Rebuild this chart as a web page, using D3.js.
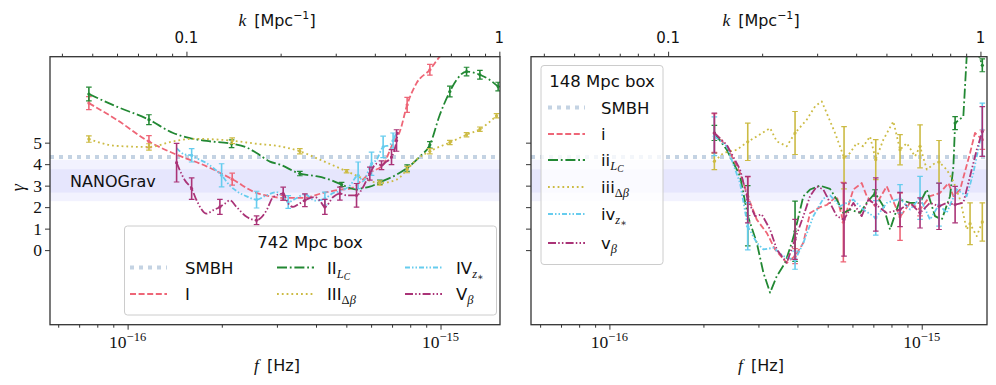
<!DOCTYPE html>
<html><head><meta charset="utf-8">
<script src="https://cdn.jsdelivr.net/npm/d3@7"></script>
<style>body{margin:0;background:#fff}svg{display:block}</style>
</head><body>
<svg id="c" width="996" height="385"></svg>
<script>
// ---------------- DATA ----------------
// frequencies in units of 1e-16 Hz, gamma = spectral index
const F_UNIT = 1e-16;
const K_PER_HZ = Math.pow(10, 14.812);   // k [Mpc^-1] = f [Hz] * K_PER_HZ
const SMBH_GAMMA = 13 / 3;
const NANO_OUTER = [2.28, 4.2];
const NANO_INNER = [2.68, 3.76];
const yTicks = [0, 1, 2, 3, 4, 5];
const fMajor = [1e-16, 1e-15];
const fMajorLabels = ["\u221216", "\u221215"];
const kMajor = [0.1, 1];
const kMajorLabels = ["0.1", "1"];

// ---- 742 Mpc box (left) ----
const L_I_f = [0.752,0.922,1.170,1.434,1.788,2.159,2.583,2.849,3.142,3.639,4.217,4.828,5.131,5.606,5.944,6.555,7.054,7.413,7.822,8.383,9.245,9.949,10.71];
const L_I_g = [6.84,6.07,5.05,4.44,3.9,3.3,2.66,2.51,2.43,2.43,2.66,2.82,2.85,3.25,3.59,3.98,4.98,5.52,6.76,7.77,8.39,9.0,9.4];
const L_I_ei = [0,2,5,8,18,20];
const L_I_ev = [0.3,0.28,0.28,0.12,0.35,0.25];

const L_II_f = [0.752,0.922,1.170,1.398,1.581,1.788,2.149,2.400,2.583,2.849,3.066,3.552,3.967,4.430,4.828,5.390,5.646,5.944,6.398,7.234,7.822,8.590,9.245,9.949,10.71,11.25,12.11,13.36,14.37,15.28];
const L_II_g = [7.26,6.68,6.07,5.45,5.21,5.08,4.95,4.78,4.52,4.12,3.98,3.56,3.45,3.28,3.05,2.82,2.89,2.95,3.16,3.51,3.82,4.36,4.9,6.3,7.38,7.92,8.31,8.16,7.92,7.61];
const L_II_ei = [0,2,6,11,14,18,20,22,24,26,27,29];
const L_II_ev = [0.32,0.23,0.18,0.1,0.1,0.1,0.15,0.15,0.25,0.2,0.2,0.2];

const L_III_f = [0.752,0.922,1.170,1.398,1.620,2.159,2.583,3.066,3.552,4.116,5.009,5.801,6.398,7.234,7.822,8.383,9.245,10.71,12.11,13.36,15.10];
const L_III_g = [5.17,4.85,4.8,5.06,5.18,5.09,4.95,4.83,4.6,4.21,3.67,3.28,3.12,3.28,3.75,4.21,4.6,5.01,5.37,5.63,6.25];
const L_III_ei = [0,2,5,8,10,12,14,16,17,18,19,20];
const L_III_ev = [0.15,0.15,0.13,0.12,0.08,0.1,0.15,0.12,0.1,0.1,0.1,0.1];

const L_IV_f = [1.434,1.524,1.602,1.702,1.788,1.887,1.997,2.122,2.229,2.400,2.583,2.781,2.992,3.142,3.260,3.449,3.686,3.967,4.270,4.528,4.768,5.131,5.454,5.646,6.019,6.244,6.555,6.887,7.054,7.234];
const L_IV_g = [4.75,4.45,4.41,4.2,4.05,3.8,3.48,3.0,2.75,2.5,2.35,2.55,2.7,2.45,2.24,2.4,2.6,2.3,2.4,2.65,2.75,3.0,3.48,3.2,4.02,4.2,4.8,4.9,5.1,5.5];
const L_IV_ei = [2,6,10,14,18,22,24,26,28];
const L_IV_ev = [0.31,0.54,0.39,0.3,0.3,0.62,0.54,0.5,0.35];

const L_V_f = [1.434,1.470,1.524,1.602,1.661,1.788,1.873,1.972,2.061,2.122,2.229,2.400,2.583,2.666,2.781,2.919,3.142,3.252,3.381,3.526,3.686,3.967,4.116,4.270,4.539,4.768,5.009,5.390,5.658,5.944,6.244,6.478,6.687,6.972,7.234,7.303];
const L_V_g = [4.07,3.7,3.25,2.86,2.32,1.7,1.85,2.01,2.2,2.32,2.01,1.55,1.39,1.5,1.86,2.47,2.63,2.2,2.01,2.15,2.32,2.47,2.3,2.01,2.47,2.63,2.55,2.55,2.94,3.56,4.02,3.95,4.1,4.33,5.1,5.5];
const L_V_ei = [0,3,7,12,16,20,23,25,27,29,31,33,34];
const L_V_ev = [0.9,0.5,0.35,0.2,0.3,0.3,0.35,0.3,0.55,0.3,0.2,0.35,0.5];

// ---- 148 Mpc box (right) ----
const R_i_f = [2.168,2.376,2.620,2.773,2.964,3.191,3.392,3.697,3.930,4.178,4.389,4.726,4.965,5.344,5.611,6.039,6.425,6.667,7.088,7.727,8.522,9.174,9.876,10.63,11.44,12.17,12.63,13.27,14.28,14.81,15.63];
const R_i_g = [5.45,4.83,3.59,2.51,1.42,0.8,0.03,-0.59,-0.28,0.34,1.73,2.0,2.1,2.51,1.3,2.82,3.12,2.51,2.04,2.97,1.55,2.2,1.89,2.51,2.66,3.12,2.51,2.82,4.52,5.45,5.14];
const R_i_ei = [0,3,8,14,20,22,30];
const R_i_ev = [0.9,0.9,0.35,1.85,1.1,0.3,0.45];

const R_ii_f = [2.168,2.376,2.620,2.773,2.964,3.112,3.269,3.435,3.651,3.836,3.930,4.178,4.389,4.726,5.087,5.344,5.611,5.896,6.345,6.667,7.088,7.536,7.917,8.522,9.174,9.876,10.38,11.03,11.59,12.32,12.63,12.79,13.59,13.93,14.63,15.63];
const R_ii_g = [5.45,4.67,3.44,1.6,0.34,-1.05,-1.98,-1.21,-0.59,0.34,0.88,2.51,2.82,3.0,2.85,2.35,1.73,1.89,1.73,2.2,2.66,2.04,0.96,2.35,2.2,2.2,2.82,1.58,1.42,2.51,3.9,5.91,6.22,9.0,9.8,8.6];
const R_ii_ei = [0,3,10,20,31,35];
const R_ii_ev = [0.35,1.4,1.4,0.15,0.3,0.3];

const R_iii_f = [2.168,2.317,2.558,2.773,2.964,3.269,3.435,3.697,3.930,4.284,4.555,4.785,4.965,5.278,5.640,5.896,6.192,6.502,6.831,7.125,7.536,8.112,8.522,8.954,9.519,9.876,10.38,11.03,11.36,12.02,12.63,13.27,13.93,14.28,15.00,15.63];
const R_iii_g = [4.13,4.52,4.67,5.04,5.29,5.68,5.06,4.83,5.45,6.07,6.69,6.92,6.37,5.45,4.3,4.52,4.98,4.83,5.29,4.21,5.14,5.99,4.67,4.98,4.36,4.83,3.75,4.05,4.1,3.75,3.2,2.35,0.96,1.23,0.65,1.31];
const R_iii_ei = [0,3,8,14,19,22,25,28,33,35];
const R_iii_ev = [0.38,0.87,1.0,1.45,0.93,0.7,1.0,1.0,0.97,0.89];

const R_iv_f = [2.168,2.376,2.620,2.773,2.964,3.112,3.350,3.606,3.930,4.178,4.498,4.842,5.087,5.476,6.039,6.502,7.125,7.727,8.522,9.174,9.876,10.63,11.36,12.02,12.94,13.93,14.63,15.63];
const R_iv_g = [5.3,4.83,3.12,1.11,0.34,0.03,0.11,-0.28,-0.47,0.34,1.58,2.4,2.55,2.04,2.35,1.89,1.5,2.2,2.39,1.89,2.43,1.42,2.12,1.73,2.82,2.51,3.59,5.6];
const R_iv_ei = [0,3,8,16,18,20,22,27];
const R_iv_ev = [0.9,1.1,0.42,0.8,0.66,1.0,1.0,1.24];

const R_v_f = [2.168,2.376,2.620,2.773,2.927,3.076,3.269,3.435,3.697,3.930,4.178,4.389,4.612,4.842,5.087,5.344,5.640,6.039,6.425,6.747,7.125,7.727,8.522,9.174,9.876,10.63,11.36,12.02,12.79,13.59,14.28,15.00,15.63];
const R_v_g = [5.45,4.9,3.75,2.35,1.58,1.66,0.96,0.03,-0.59,0.5,1.58,2.51,2.97,2.82,2.2,1.58,1.42,2.2,1.58,2.35,2.12,1.73,1.89,2.2,1.73,2.2,2.04,2.2,2.12,2.2,3.44,4.67,5.52];
const R_v_ei = [0,3,9,16,20,22,24,26,28,32];
const R_v_ev = [0.93,1.08,0.93,1.7,1.24,0.8,0.7,1.08,0.85,1.16];

// ---------------- STYLE ----------------
const ST = {
  SMBH: {color:"#c4d3e3", dash:"4,5", width:4},
  I:   {color:"#EE6677", dash:"6,2.6", width:1.8},
  II:  {color:"#228833", dash:"10,2.8,1.8,2.8", width:1.8},
  III: {color:"#CCBB44", dash:"1.8,3", width:1.8},
  IV:  {color:"#66CCEE", dash:"5,2,1.5,2,1.5,2", width:1.8},
  V:   {color:"#AA3377", dash:"8,2.2,1.5,2.2,1.5,2.2", width:1.8}
};
const SANS = "'DejaVu Sans', sans-serif";
const SERIF = "'Liberation Serif', 'DejaVu Serif', serif";

const svg = d3.select("#c");
const yTop = 56.7, yBot = 324.7;
const y = d3.scaleLinear().domain([-3.47, 9.0]).range([yBot, yTop]);

const panels = [
  {id:"L", x0:50, x1:500, dom:[0.5649e-16, 15.49e-16], yLabels:true, curve:d3.curveMonotoneX,
   series:[["I",L_I_f,L_I_g,L_I_ei,L_I_ev],["II",L_II_f,L_II_g,L_II_ei,L_II_ev],["III",L_III_f,L_III_g,L_III_ei,L_III_ev],["IV",L_IV_f,L_IV_g,L_IV_ei,L_IV_ev],["V",L_V_f,L_V_g,L_V_ei,L_V_ev]]},
  {id:"R", x0:531, x1:987, dom:[0.561e-16, 16.18e-16], yLabels:false, curve:d3.curveLinear,
   series:[["I",R_i_f,R_i_g,R_i_ei,R_i_ev],["II",R_ii_f,R_ii_g,R_ii_ei,R_ii_ev],["III",R_iii_f,R_iii_g,R_iii_ei,R_iii_ev],["IV",R_iv_f,R_iv_g,R_iv_ei,R_iv_ev],["V",R_v_f,R_v_g,R_v_ei,R_v_ev]]}
];

function minorTicks(dom) {
  const out = [];
  for (let e = -20; e <= 3; e++) for (let m = 2; m <= 9; m++) {
    const v = m * Math.pow(10, e);
    if (v >= dom[0] * 0.9999 && v <= dom[1] * 1.0001) out.push(v);
  }
  return out;
}

panels.forEach(p => {
  const x = d3.scaleLog().domain(p.dom).range([p.x0, p.x1]);
  const xk = d3.scaleLog().domain([p.dom[0] * K_PER_HZ, p.dom[1] * K_PER_HZ]).range([p.x0, p.x1]);
  const g = svg.append("g");

  const clipId = "clip" + p.id;
  svg.append("clipPath").attr("id", clipId).append("rect")
    .attr("x", p.x0).attr("y", yTop).attr("width", p.x1 - p.x0).attr("height", yBot - yTop);
  const plot = g.append("g").attr("clip-path", `url(#${clipId})`);

  // NANOGrav bands
  [NANO_OUTER, NANO_INNER].forEach(b => {
    plot.append("rect").attr("x", p.x0).attr("width", p.x1 - p.x0)
      .attr("y", y(b[1])).attr("height", y(b[0]) - y(b[1]))
      .attr("fill", "#5050f0").attr("fill-opacity", 0.075);
  });
  // SMBH
  plot.append("line").attr("x1", p.x0).attr("x2", p.x1)
    .attr("y1", y(SMBH_GAMMA)).attr("y2", y(SMBH_GAMMA))
    .attr("stroke", ST.SMBH.color).attr("stroke-width", ST.SMBH.width)
    .attr("stroke-dasharray", ST.SMBH.dash);

  if (p.id === "L") {
    g.append("text").attr("x", 70).attr("y", 187).attr("font-family", SANS)
      .attr("font-size", 16).attr("fill", "#111").text("NANOGrav");
  }

  const line = d3.line().x(d => x(d[0] * F_UNIT)).y(d => y(d[1])).curve(p.curve);
  p.series.forEach(([key, fs, gs, ei, ev]) => {
    const st = ST[key];
    const pts = fs.map((f, i) => [f, gs[i]]);
    plot.append("path").datum(pts).attr("d", line).attr("fill", "none")
      .attr("stroke", st.color).attr("stroke-width", st.width)
      .attr("stroke-dasharray", st.dash).attr("stroke-linejoin", "round");
    const eb = plot.append("g").attr("stroke", st.color).attr("fill", st.color);
    ei.forEach((idx, j) => {
      const cx = x(fs[idx] * F_UNIT), cy = y(gs[idx]);
      const y1 = y(gs[idx] + ev[j]), y2 = y(gs[idx] - ev[j]);
      eb.append("line").attr("x1", cx).attr("x2", cx).attr("y1", y1).attr("y2", y2).attr("stroke-width", 1.6);
      eb.append("line").attr("x1", cx - 2.8).attr("x2", cx + 2.8).attr("y1", y1).attr("y2", y1).attr("stroke-width", 1.2);
      eb.append("line").attr("x1", cx - 2.8).attr("x2", cx + 2.8).attr("y1", y2).attr("y2", y2).attr("stroke-width", 1.2);
      eb.append("circle").attr("cx", cx).attr("cy", cy).attr("r", 1.6).attr("stroke", "none");
    });
  });

  // axes
  const axCol = "#333";
  const bMin = g.append("g").attr("transform", `translate(0,${yBot})`)
    .call(d3.axisBottom(x).tickValues(minorTicks(p.dom)).tickSize(3).tickFormat(""));
  const bMaj = g.append("g").attr("transform", `translate(0,${yBot})`)
    .call(d3.axisBottom(x).tickValues(fMajor).tickSize(5).tickFormat(""));
  const tMin = g.append("g").attr("transform", `translate(0,${yTop})`)
    .call(d3.axisTop(xk).tickValues(minorTicks([p.dom[0]*K_PER_HZ, p.dom[1]*K_PER_HZ])).tickSize(3).tickFormat(""));
  const tMaj = g.append("g").attr("transform", `translate(0,${yTop})`)
    .call(d3.axisTop(xk).tickValues(kMajor).tickSize(5).tickFormat(""));
  const lAx = g.append("g").attr("transform", `translate(${p.x0},0)`)
    .call(d3.axisLeft(y).tickValues(yTicks).tickSize(5).tickFormat(""));
  [bMin, bMaj, tMin, tMaj, lAx].forEach(a => {
    a.select(".domain").remove();
    a.selectAll("line").attr("stroke", axCol).attr("stroke-width", 1);
  });

  // bottom tick labels 10^-16 etc
  fMajor.forEach((v, i) => {
    const t = g.append("text").attr("x", x(v)).attr("y", 348).attr("text-anchor", "middle")
      .attr("font-family", SERIF).attr("font-size", 17.5).attr("fill", "#111");
    t.append("tspan").text("10");
    t.append("tspan").attr("dy", -7.5).attr("font-size", 12.5).text(fMajorLabels[i]);
  });
  kMajor.forEach((v, i) => {
    g.append("text").attr("x", xk(v)).attr("y", 43).attr("text-anchor", "middle")
      .attr("font-family", SANS).attr("font-size", 15).attr("fill", "#111").text(kMajorLabels[i]);
  });
  if (p.yLabels) {
    yTicks.forEach(v => {
      g.append("text").attr("x", 42).attr("y", y(v) + 6).attr("text-anchor", "end")
        .attr("font-family", SERIF).attr("font-size", 17.5).attr("fill", "#111").text(v);
    });
    g.append("text").attr("transform", `translate(24,${y(2.9)}) rotate(-90)`)
      .attr("text-anchor", "middle").attr("font-family", SERIF).attr("font-style", "italic")
      .attr("font-size", 18).attr("fill", "#111").text("\u03b3");
  }
  const cx = (p.x0 + p.x1) / 2 + 2;
  const fl = g.append("text").attr("x", cx).attr("y", 371).attr("text-anchor", "middle")
    .attr("font-size", 16).attr("fill", "#111");
  fl.append("tspan").attr("font-family", SERIF).attr("font-style", "italic").attr("font-size", 17.5).text("f");
  fl.append("tspan").attr("font-family", SANS).text("\u2002[Hz]");
  const kl = g.append("text").attr("x", cx).attr("y", 26).attr("text-anchor", "middle")
    .attr("font-size", 16).attr("fill", "#111");
  kl.append("tspan").attr("font-family", SERIF).attr("font-style", "italic").attr("font-size", 17.5).text("k");
  kl.append("tspan").attr("font-family", SANS).text("\u2002[Mpc");
  kl.append("tspan").attr("font-family", SANS).attr("font-size", 11).attr("dy", -7).text("\u22121");
  kl.append("tspan").attr("font-family", SANS).attr("dy", 7).text("]");

  // frame
  g.append("rect").attr("x", p.x0).attr("y", yTop).attr("width", p.x1 - p.x0).attr("height", yBot - yTop)
    .attr("fill", "none").attr("stroke", "#333").attr("stroke-width", 1.3);
});

// ---------------- LEGENDS ----------------
function labelText(sel, base, sub) {
  sel.append("tspan").attr("font-family", SANS).text(base);
  if (!sub) return;
  sub.forEach(s => {
    sel.append("tspan").attr("font-family", s.sans ? SANS : SERIF)
      .attr("font-style", s.it ? "italic" : "normal")
      .attr("font-size", s.size).attr("dy", s.dy).text(s.t);
  });
}
const SUBS = {
  SMBH: null,
  I: null,
  II: [{t:"L", it:true, size:12.5, dy:4}, {t:"C", it:true, size:9.5, dy:2}],
  III: [{t:"\u0394", it:false, size:12.5, dy:4}, {t:"\u03b2", it:true, size:12.5, dy:0}],
  IV: [{t:"z", it:true, size:12.5, dy:4}, {t:"\u2217", it:false, size:9.5, dy:2}],
  V: [{t:"\u03b2", it:true, size:12.5, dy:4}]
};
const leftNames = {SMBH:"SMBH", I:"I", II:"II", III:"III", IV:"IV", V:"V"};
const rightNames = {SMBH:"SMBH", I:"i", II:"ii", III:"iii", IV:"iv", V:"v"};

function legendEntry(g, key, name, hx, ty, lx) {
  const st = ST[key];
  g.append("line").attr("x1", hx).attr("x2", hx + 37).attr("y1", ty).attr("y2", ty)
    .attr("stroke", st.color).attr("stroke-width", key === "SMBH" ? 4 : st.width)
    .attr("stroke-dasharray", st.dash);
  const t = g.append("text").attr("x", lx).attr("y", ty + 6).attr("font-size", 16.5).attr("fill", "#111");
  labelText(t, name, SUBS[key]);
}

// left legend
{
  const g = svg.append("g");
  g.append("rect").attr("x", 124.5).attr("y", 226).attr("width", 372).attr("height", 89).attr("rx", 3)
    .attr("fill", "#fff").attr("fill-opacity", 0.8).attr("stroke", "#cccccc");
  g.append("text").attr("x", 310).attr("y", 248).attr("text-anchor", "middle")
    .attr("font-family", SANS).attr("font-size", 16.5).attr("fill", "#111").text("742 Mpc box");
  const cols = [[130, 185], [277, 327], [405, 456]];
  const order = [["SMBH", 0, 0], ["I", 0, 1], ["II", 1, 0], ["III", 1, 1], ["IV", 2, 0], ["V", 2, 1]];
  order.forEach(([k, c, r]) => legendEntry(g, k, leftNames[k], cols[c][0], r === 0 ? 267.5 : 294, cols[c][1]));
}
// right legend
{
  const g = svg.append("g");
  g.append("rect").attr("x", 541).attr("y", 65.5).attr("width", 122).attr("height", 199).attr("rx", 3)
    .attr("fill", "#fff").attr("fill-opacity", 0.8).attr("stroke", "#cccccc");
  g.append("text").attr("x", 602).attr("y", 87).attr("text-anchor", "middle")
    .attr("font-family", SANS).attr("font-size", 16.5).attr("fill", "#111").text("148 Mpc box");
  const rows = [["SMBH", 107.5], ["I", 134], ["II", 160], ["III", 187], ["IV", 214], ["V", 243]];
  rows.forEach(([k, yy]) => legendEntry(g, k, rightNames[k], 548, yy, 601));
}
</script>
</body></html>
